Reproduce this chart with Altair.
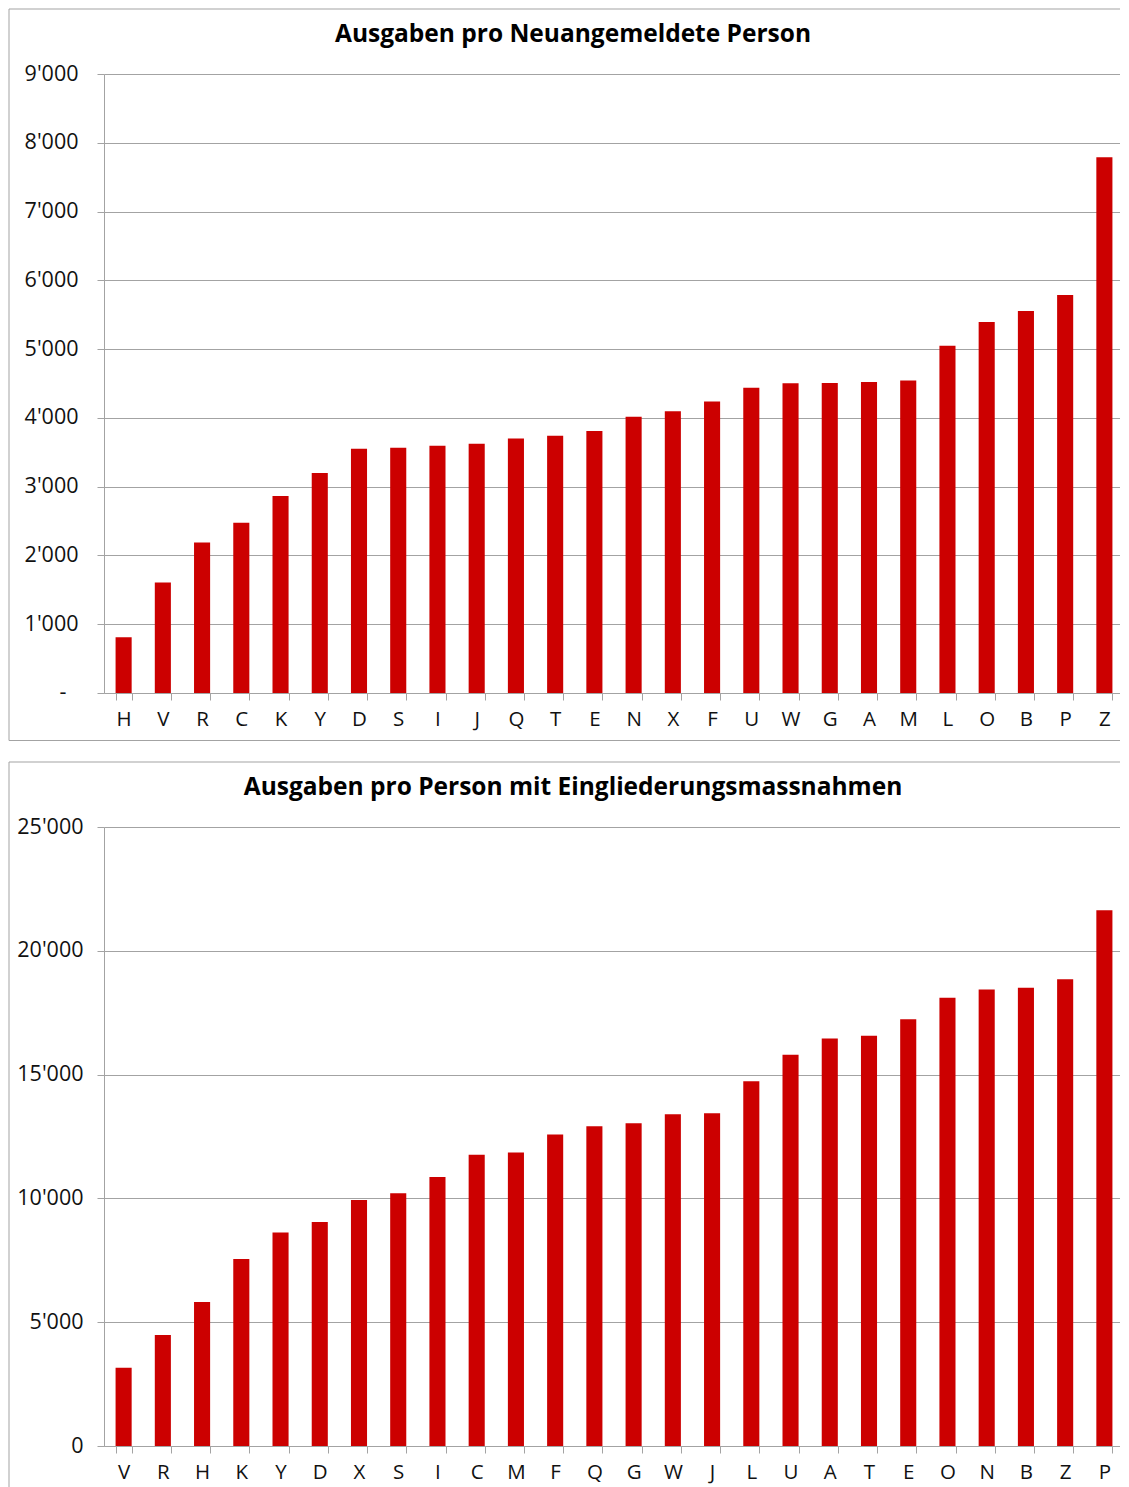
import altair as alt
import pandas as pd

# ---- data ----
cats_top = ["H", "V", "R", "C", "K", "Y", "D", "S", "I", "J", "Q", "T", "E",
            "N", "X", "F", "U", "W", "G", "A", "M", "L", "O", "B", "P", "Z"]
vals_top = [810, 1605, 2190, 2477, 2865, 3200, 3553, 3565, 3595, 3625, 3700, 3740, 3810,
            4015, 4095, 4237, 4440, 4505, 4508, 4523, 4542, 5050, 5394, 5554, 5786, 7790]
title_top = "Ausgaben pro Neuangemeldete Person"

cats_bot = ["V", "R", "H", "K", "Y", "D", "X", "S", "I", "C", "M", "F", "Q",
            "G", "W", "J", "L", "U", "A", "T", "E", "O", "N", "B", "Z", "P"]
vals_bot = [3160, 4480, 5813, 7550, 8627, 9043, 9931, 10210, 10860, 11760, 11857, 12584, 12919,
            13040, 13403, 13444, 14736, 15797, 16460, 16565, 17239, 18100, 18438, 18503, 18854, 21640]
title_bot = "Ausgaben pro Person mit Eingliederungsmassnahmen"

ticks_top = [0, 1000, 2000, 3000, 4000, 5000, 6000, 7000, 8000, 9000]
ticks_bot = [0, 5000, 10000, 15000, 20000, 25000]

FONT = "Open Sans"
GRAY = "#a3a3a3"
W, H = 1020, 619

fmt = "replace(format(datum.value, ','), ',', \"'\")"


def panel(cats, vals, title, ticks, label_expr, lab_pad, frame_bottom, closed, dash):
    df = pd.DataFrame({"Kanton": cats, "Wert": vals})
    bars = alt.Chart(df).mark_bar(color="#cc0000").encode(
        x=alt.X("Kanton:N", sort=cats,
                scale=alt.Scale(paddingInner=0.59, paddingOuter=0.295),
                axis=alt.Axis(title=None, labelAngle=0, tickBand="extent",
                              labelFont=FONT, labelFontSize=20.5, labelColor="#111111",
                              labelPadding=9.5, tickSize=7, tickColor=GRAY,
                              domainColor=GRAY, grid=False)),
        y=alt.Y("Wert:Q", scale=alt.Scale(domain=[ticks[0], ticks[-1]], nice=False),
                axis=alt.Axis(title=None, values=ticks, labelExpr=label_expr,
                              labelFont=FONT, labelFontSize=21.5, labelColor="#111111",
                              labelPadding=lab_pad, tickSize=7, tickColor=GRAY,
                              domainColor=GRAY, grid=True, gridColor=GRAY)),
    )
    one = pd.DataFrame({"t": [title]})
    ttl = alt.Chart(one).mark_text(font=FONT, fontSize=24.5, fontWeight="bold",
                                   color="#000000", align="center",
                                   baseline="alphabetic").encode(
        text="t:N", x=alt.value(469), y=alt.value(-32))
    rule = dict(color=GRAY, strokeWidth=1)
    top = alt.Chart(one).mark_rule(**rule).encode(
        x=alt.value(-95), x2=alt.value(1024), y=alt.value(-65))
    left = alt.Chart(one).mark_rule(**rule).encode(
        x=alt.value(-95), y=alt.value(-65), y2=alt.value(frame_bottom))
    layers = [bars, ttl, top, left]
    if closed:
        bottom = alt.Chart(one).mark_rule(**rule).encode(
            x=alt.value(-95), x2=alt.value(1024), y=alt.value(frame_bottom))
        layers.append(bottom)
    if dash:
        zero = pd.DataFrame({"v": [0], "s": ["-"]})
        dz = alt.Chart(zero).mark_text(font=FONT, fontSize=21.5, color="#111111",
                                       align="center", baseline="middle").encode(
            text="s:N", x=alt.value(-41),
            y=alt.Y("v:Q", scale=alt.Scale(domain=[ticks[0], ticks[-1]], nice=False)))
        layers.append(dz)
    return alt.layer(*layers).properties(width=W, height=H)


p1 = panel(cats_top, vals_top, title_top, ticks_top,
           "datum.value == 0 ? '' : " + fmt, 19, 666.5, True, True)
p2 = panel(cats_bot, vals_bot, title_bot, ticks_bot, fmt, 14, 668, False, False)

chart = alt.vconcat(p1, p2, spacing=20).properties(
    padding={"left": 0, "top": 0, "right": -9, "bottom": 0}, background="white"
).configure_view(stroke=None)

chart.save("out.html", embed_options={"renderer": "svg", "actions": False})
